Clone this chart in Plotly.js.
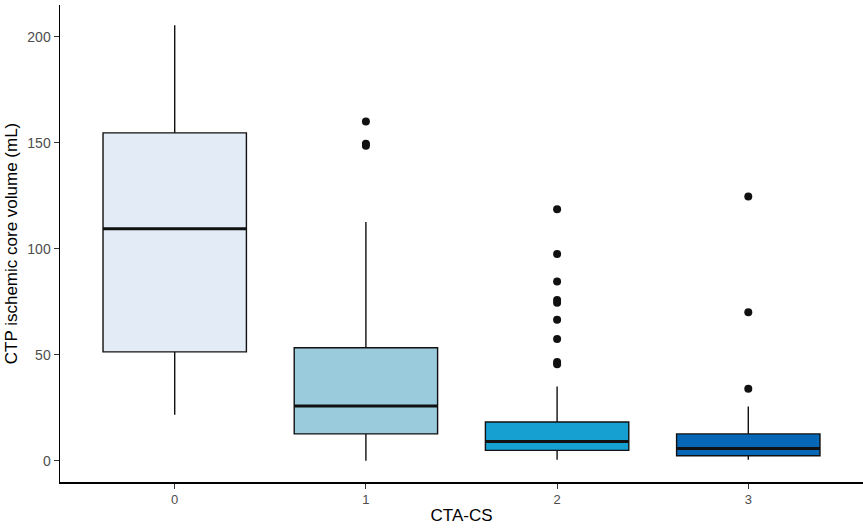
<!DOCTYPE html>
<html>
<head>
<meta charset="utf-8">
<script src="https://cdn.plot.ly/plotly-3.0.1.min.js"></script>
<style>html,body{margin:0;padding:0;background:#fff;}#chart{width:863px;height:529px;}</style>
</head>
<body>
<div id="chart"></div>
<script>
// Categories (CTA-CS score)
const categories = [0, 1, 2, 3];
const tickLabels = ["0", "1", "2", "3"];
// Box statistics (mL)
const lowerWhisker = [21.7, 0.0, 0.5, 0.5];
const q1 = [51.4, 12.7, 4.9, 2.4];
const median = [109.4, 25.9, 9.1, 5.8];
const q3 = [154.7, 53.3, 18.3, 12.7];
const upperWhisker = [205.5, 112.7, 35.0, 25.6];
// Outliers
const outlierCat = [1, 1, 1, 2, 2, 2, 2, 2, 2, 2, 2, 2, 3, 3, 3];
const outlierVal = [160.0, 149.6, 148.6, 118.7, 97.5, 84.6, 75.9, 74.6, 66.5, 57.4, 46.6, 45.6, 124.7, 70.1, 34.0];
const fills = ["#E3ECF6", "#99CBDC", "#16A0D2", "#0667B6"];

const boxW = 0.75;
const traces = categories.map((c, i) => ({
  type: "box",
  x: [c],
  q1: [q1[i]], median: [median[i]], q3: [q3[i]],
  lowerfence: [lowerWhisker[i]], upperfence: [upperWhisker[i]],
  width: boxW,
  fillcolor: fills[i],
  line: {color: "#111", width: 1.4},
  whiskerwidth: 0,
  boxpoints: false,
  hoverinfo: "skip",
  showlegend: false
}));
traces.push({
  type: "scatter", mode: "markers",
  x: outlierCat, y: outlierVal,
  marker: {color: "#111", size: 8},
  showlegend: false, hoverinfo: "skip"
});

const shapes = categories.map((c, i) => ({
  type: "line", xref: "x", yref: "y",
  x0: c - boxW / 2, x1: c + boxW / 2, y0: median[i], y1: median[i],
  line: {color: "#111", width: 3}
}));

const layout = {
  width: 863, height: 529,
  margin: {l: 60, r: 0, t: 5, b: 47},
  paper_bgcolor: "#fff", plot_bgcolor: "#fff",
  font: {family: "Liberation Sans, Arial, sans-serif"},
  shapes: shapes,
  xaxis: {
    range: [-0.6, 3.6], tickvals: categories, ticktext: tickLabels,
    showgrid: false, zeroline: false,
    showline: true, linecolor: "#000", linewidth: 1.5,
    ticks: "outside", ticklen: 5, tickcolor: "#333", tickwidth: 1,
    tickfont: {size: 13, color: "#4d4d4d"},
    title: {text: "CTA-CS", font: {size: 17, color: "#000"}, standoff: 3}
  },
  yaxis: {
    range: [-10, 215], tickvals: [0, 50, 100, 150, 200],
    showgrid: false, zeroline: false,
    showline: true, linecolor: "#000", linewidth: 1.5,
    ticks: "outside", ticklen: 5, tickcolor: "#333", tickwidth: 1,
    tickfont: {size: 14, color: "#4d4d4d"},
    title: {text: "CTP ischemic core volume (mL)", font: {size: 17, color: "#000"}, standoff: 5}
  }
};
Plotly.newPlot("chart", traces, layout, {displayModeBar: false, staticPlot: true});
</script>
</body>
</html>
